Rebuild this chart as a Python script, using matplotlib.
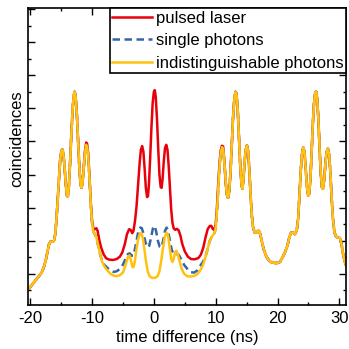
import matplotlib
matplotlib.use("Agg")
import matplotlib.pyplot as plt
from matplotlib.ticker import MultipleLocator

plt.rcParams['font.family'] = ['Liberation Sans', 'DejaVu Sans']
plt.rcParams['axes.unicode_minus'] = False

# shared part on the left (all three curves overlap)
left_x = [-20.4, -20.0, -19.5, -19.0, -18.5, -18.1, -17.8, -17.5, -17.2, -16.95,
          -16.7, -16.4, -16.15, -15.95, -15.75, -15.55, -15.35, -15.15, -14.95, -14.8,
          -14.65, -14.45, -14.25, -14.05, -13.9, -13.75, -13.55, -13.35, -13.15, -12.95,
          -12.8, -12.65, -12.45, -12.25, -12.05, -11.85, -11.7, -11.55]
left_y = [0.52, 0.6, 0.72, 0.84, 0.95, 1.06, 1.2, 1.4, 1.68, 1.9,
          1.98, 1.97, 2.0, 2.2, 2.65, 3.25, 3.9, 4.45, 4.72, 4.76,
          4.65, 4.25, 3.7, 3.35, 3.35, 3.65, 4.35, 5.2, 5.95, 6.4,
          6.5, 6.35, 5.8, 5.0, 4.2, 3.7, 3.6, 3.75]

# shared part on the right
right_x = [12.0, 12.2, 12.4, 12.6, 12.8, 13.0, 13.2, 13.35, 13.55, 13.75,
           13.95, 14.15, 14.3, 14.45, 14.65, 14.85, 15.05, 15.25, 15.45, 15.65,
           15.85, 16.05, 16.3, 16.55, 16.8, 17.0, 17.2, 17.5, 17.8, 18.2,
           18.6, 19.0, 19.5, 20.0, 20.4, 20.8, 21.2, 21.6, 21.9, 22.2,
           22.5, 22.8, 23.1, 23.35, 23.55, 23.75, 23.95, 24.15, 24.35, 24.55,
           24.75, 24.95, 25.1, 25.3, 25.5, 25.7, 25.9, 26.1, 26.25, 26.4,
           26.6, 26.8, 27.0, 27.2, 27.35, 27.55, 27.75, 27.95, 28.15, 28.35,
           28.55, 28.75, 28.95, 29.2, 29.5, 29.8, 30.1, 30.35, 30.6, 30.9, 31.1]
right_y = [3.3, 3.5, 4.1, 4.9, 5.7, 6.25, 6.5, 6.45, 6.0, 5.2,
           4.35, 3.75, 3.57, 3.75, 4.3, 4.75, 4.88, 4.7, 4.1, 3.35,
           2.75, 2.4, 2.25, 2.25, 2.3, 2.3, 2.2, 1.95, 1.72, 1.52,
           1.41, 1.35, 1.33, 1.33, 1.36, 1.5, 1.65, 1.85, 2.1, 2.25,
           2.25, 2.2, 2.3, 2.7, 3.4, 4.1, 4.6, 4.82, 4.7, 4.2,
           3.65, 3.36, 3.4, 3.8, 4.6, 5.5, 6.15, 6.48, 6.5, 6.3,
           5.7, 4.8, 4.0, 3.6, 3.57, 3.85, 4.35, 4.7, 4.78, 4.6,
           4.05, 3.3, 2.7, 2.25, 2.12, 2.1, 2.08, 1.9, 1.6, 1.35, 1.25]

# central part: indistinguishable photons
ind_x = [-11.35, -11.15, -10.95, -10.8, -10.6, -10.4, -10.2, -10.0, -9.8, -9.55,
         -9.3, -9.0, -8.7, -8.4, -8.0, -7.5, -7.0, -6.5, -6.0, -5.5,
         -5.0, -4.7, -4.4, -4.15, -3.95, -3.75, -3.5, -3.3, -3.1, -2.85,
         -2.55, -2.25, -2.0, -1.75, -1.5, -1.25, -1.0, -0.7, -0.3, 0.2,
         0.6, 0.9, 1.15, 1.45, 1.75, 2.05, 2.3, 2.55, 2.8, 3.0,
         3.2, 3.45, 3.65, 3.9, 4.2, 4.5, 4.9, 5.4, 5.9, 6.5,
         7.0, 7.5, 7.9, 8.3, 8.7, 9.0, 9.3, 9.6, 9.85, 10.05,
         10.25, 10.45, 10.65, 10.85, 11.05, 11.25, 11.45, 11.65, 11.85]
ind_y = [4.15, 4.65, 4.9, 4.85, 4.5, 3.85, 3.1, 2.55, 2.28, 2.2,
         2.1, 1.85, 1.6, 1.38, 1.22, 1.1, 1.0, 0.95, 0.93, 0.96,
         1.04, 1.2, 1.38, 1.53, 1.56, 1.45, 1.22, 1.2, 1.35, 1.7,
         2.05, 2.22, 2.23, 2.05, 1.7, 1.35, 1.08, 0.93, 0.88, 0.88,
         0.93, 1.08, 1.35, 1.75, 2.1, 2.25, 2.15, 1.8, 1.45, 1.36,
         1.45, 1.65, 1.7, 1.58, 1.35, 1.15, 1.0, 0.93, 0.92, 0.94,
         0.99, 1.1, 1.25, 1.48, 1.75, 1.98, 2.1, 2.18, 2.25, 2.45,
         3.0, 3.7, 4.3, 4.7, 4.83, 4.7, 4.25, 3.7, 3.35]

# central part: pulsed laser
laser_x = [-11.35, -11.15, -10.95, -10.8, -10.6, -10.4, -10.2, -10.0, -9.8, -9.55,
           -9.3, -9.1, -8.8, -8.5, -8.1, -7.7, -7.2, -6.6, -6.0, -5.5,
           -5.1, -4.7, -4.35, -4.0, -3.75, -3.5, -3.3, -3.05, -2.8, -2.55,
           -2.3, -2.1, -1.9, -1.7, -1.5, -1.3, -1.1, -0.95, -0.8, -0.6,
           -0.4, -0.2, 0.0, 0.15, 0.3, 0.5, 0.7, 0.9, 1.1, 1.25,
           1.4, 1.6, 1.8, 2.0, 2.2, 2.4, 2.6, 2.8, 3.0, 3.2,
           3.45, 3.7, 4.0, 4.3, 4.6, 5.0, 5.5, 6.0, 6.6, 7.2,
           7.6, 8.0, 8.35, 8.7, 9.05, 9.3, 9.55, 9.8, 10.0, 10.2,
           10.4, 10.6, 10.8, 11.0, 11.2, 11.4, 11.6, 11.8]
laser_y = [4.2, 4.7, 4.97, 4.93, 4.6, 3.9, 3.15, 2.6, 2.38, 2.35,
           2.38, 2.3, 2.0, 1.78, 1.58, 1.47, 1.43, 1.42, 1.45, 1.52,
           1.65, 1.9, 2.2, 2.35, 2.33, 2.23, 2.3, 2.6, 3.05, 3.7,
           4.35, 4.75, 4.86, 4.7, 4.2, 3.6, 3.32, 3.35, 3.7, 4.5,
           5.4, 6.15, 6.5, 6.55, 6.35, 5.7, 4.8, 4.0, 3.62, 3.6,
           3.85, 4.4, 4.8, 4.9, 4.75, 4.25, 3.6, 2.95, 2.55, 2.38,
           2.33, 2.36, 2.32, 2.15, 1.9, 1.68, 1.52, 1.45, 1.44, 1.48,
           1.58, 1.8, 2.1, 2.35, 2.45, 2.45, 2.35, 2.33, 2.5, 3.0,
           3.7, 4.3, 4.72, 4.87, 4.85, 4.4, 3.8, 3.4]

# central part: single photons
single_x = [-8.4, -8.0, -7.5, -7.0, -6.5, -6.0, -5.5, -5.0, -4.6, -4.2,
            -3.9, -3.6, -3.35, -3.1, -2.8, -2.5, -2.2, -1.95, -1.65, -1.35,
            -1.0, -0.75, -0.45, -0.15, 0.1, 0.35, 0.65, 0.95, 1.2, 1.5,
            1.8, 2.05, 2.3, 2.6, 2.9, 3.2, 3.6, 4.0, 4.4, 4.9,
            5.5, 6.0, 6.5, 7.0, 7.4, 7.9, 8.3]
single_y = [1.4, 1.27, 1.18, 1.1, 1.06, 1.08, 1.15, 1.28, 1.45, 1.6,
            1.62, 1.55, 1.55, 1.72, 2.0, 2.3, 2.4, 2.38, 2.2, 1.95,
            1.8, 1.85, 2.1, 2.38, 2.45, 2.3, 2.0, 1.82, 1.8, 2.0,
            2.3, 2.4, 2.3, 2.0, 1.72, 1.6, 1.6, 1.58, 1.45, 1.27,
            1.13, 1.05, 1.04, 1.1, 1.22, 1.35, 1.5]

ind_fx = left_x + ind_x + right_x
ind_fy = left_y + ind_y + right_y
laser_fx = left_x + laser_x + right_x
laser_fy = left_y + laser_y + right_y
sx = [x for x in ind_fx if x < -8.45]
sy = [y for x, y in zip(ind_fx, ind_fy) if x < -8.45]
ex = [x for x in ind_fx if x > 8.35]
ey = [y for x, y in zip(ind_fx, ind_fy) if x > 8.35]
single_fx = sx + single_x + ex
single_fy = sy + single_y + ey

fig = plt.figure(figsize=(3.49, 3.49), dpi=100)
ax = fig.add_axes([0.080, 0.126, 0.911, 0.851])

ax.plot(laser_fx, laser_fy, color='#e8000b', lw=1.8, label='pulsed laser')
ax.plot(single_fx, single_fy, color='#3565a8', lw=1.8, ls=(0, (3.0, 1.8)),
        label='single photons')
ax.plot(ind_fx, ind_fy, color='#ffc20e', lw=1.8,
        label='indistinguishable photons')

ax.set_xlim(-20.37, 31.05)
ax.set_ylim(0.06, 9.03)
ax.xaxis.set_major_locator(MultipleLocator(10))
ax.xaxis.set_minor_locator(MultipleLocator(5))
ax.yaxis.set_major_locator(MultipleLocator(1))
ax.yaxis.set_minor_locator(MultipleLocator(0.5))
ax.tick_params(which='both', direction='in', top=True, right=True,
               labelleft=False, width=1.0, labelsize=12, pad=4)
ax.tick_params(which='major', length=5)
ax.tick_params(which='minor', length=2.5)
for s in ax.spines.values():
    s.set_linewidth(1.2)

ax.set_xlabel('time difference (ns)', fontsize=12, labelpad=3)
ax.set_ylabel('coincidences', fontsize=12)
ax.yaxis.set_label_coords(-0.01, 0.56)

leg = ax.legend(loc='upper right', bbox_to_anchor=(1.0, 1.0), borderaxespad=0,
                fontsize=12, fancybox=False, framealpha=1, edgecolor='black',
                handlelength=2.4, handletextpad=0.2, borderpad=0.15,
                labelspacing=0.45)
leg.get_frame().set_linewidth(1.2)

plt.savefig('out.png', dpi=100)
